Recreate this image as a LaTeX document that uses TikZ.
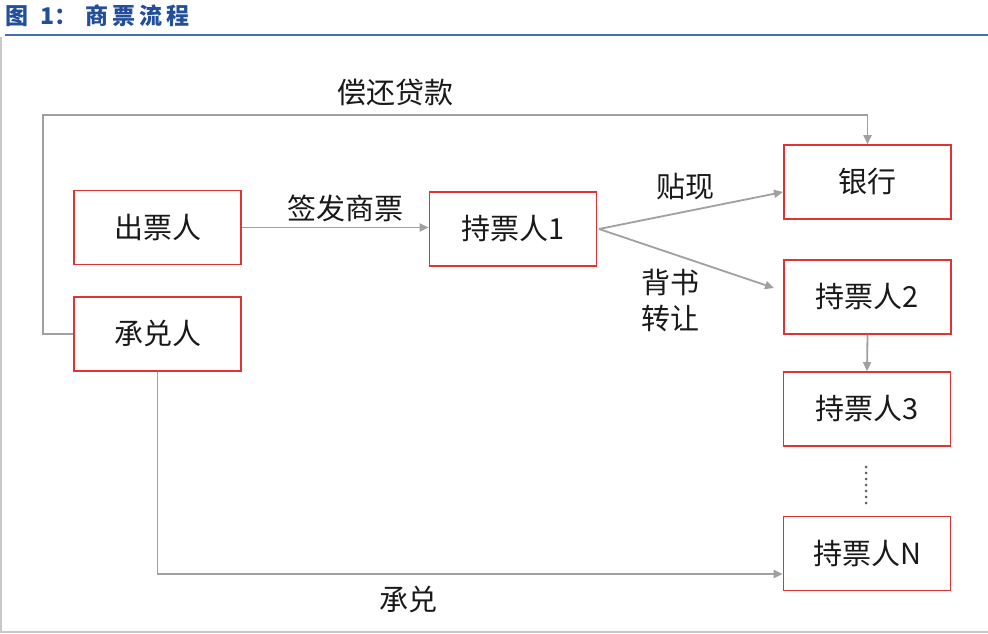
\documentclass[tikz,border=0pt]{standalone}
\usepackage{fontspec}
\setmainfont{Noto Sans CJK SC}
\usetikzlibrary{arrows.meta}
\definecolor{boxred}{RGB}{222,52,52}
\definecolor{lgray}{RGB}{160,160,160}
\definecolor{txt}{RGB}{25,25,25}
\definecolor{tblue}{RGB}{34,78,154}
\definecolor{lblue}{RGB}{70,110,180}
\definecolor{frame}{RGB}{200,200,200}
\begin{document}
\begin{tikzpicture}[x=1pt,y=-1pt,
  box/.style={draw=boxred,line width=1.6pt,minimum width=167pt,minimum height=74pt,inner sep=0pt,font=\fontsize{29}{32}\selectfont,text=txt},
  conn/.style={draw=lgray,line width=1.8pt,-{Triangle[length=9pt,width=8pt]}},
  lbl/.style={font=\fontsize{29}{32}\selectfont,text=txt,inner sep=0pt}]
\useasboundingbox (0,0) rectangle (988,634);
% frame and title
\draw[frame,line width=1.5pt] (1,37) -- (1,632) -- (988,632);
\draw[lblue,line width=1.8pt] (5,35) -- (988,35);
\node[anchor=west,inner sep=0pt,text=tblue,font=\bfseries\fontsize{23}{25}\selectfont] (title) at (5,16) {图\hspace{12pt}1：\hspace{8pt}\addfontfeature{LetterSpace=18}商票流程};
% boxes
\node[box] (chu) at (157.5,227.5) {出票人};
\node[box] (cheng) at (157.5,334) {承兑人};
\node[box] (h1) at (513,229) {持票人1};
\node[box] (bank) at (867.5,182) {银行};
\node[box] (h2) at (867.5,297) {持票人2};
\node[box] (h3) at (867,409) {持票人3};
\node[box] (hn) at (867,553.5) {持票人N};
% coordinates
\coordinate (c1) at (43,115);
\coordinate (c2) at (157.5,574);
\coordinate (s1) at (599,229);
\coordinate (t1) at (783,192);
\coordinate (t2) at (774,288);
\coordinate (d1) at (866,467);
\coordinate (d2) at (866,503);
% connectors
\draw[conn] (cheng.west) -- (cheng.west -| c1) -- (c1) -- (c1 -| bank.north) -- (bank.north);
\draw[conn] (chu.east) -- (chu.east -| h1.west);
\draw[conn] (s1) -- (t1);
\draw[conn] (s1) -- (t2);
\draw[conn] (h2.south) -- (h3.north);
\draw[conn] (cheng.south) -- (c2) -- (c2 -| hn.west);
\draw[txt!70,line width=3pt,line cap=round,dash pattern=on 0pt off 6pt] (d1) -- (d2);
% labels
\node[lbl] (l1) at (395,92) {偿还贷款};
\node[lbl] (l2) at (345,208) {签发商票};
\node[lbl] (l3) at (685,187) {贴现};
\node[lbl,align=center,font=\fontsize{29}{36}\selectfont] (l4) at (670,300) {背书\\转让};
\node[lbl] (l5) at (408,600) {承兑};
\end{tikzpicture}
\end{document}
